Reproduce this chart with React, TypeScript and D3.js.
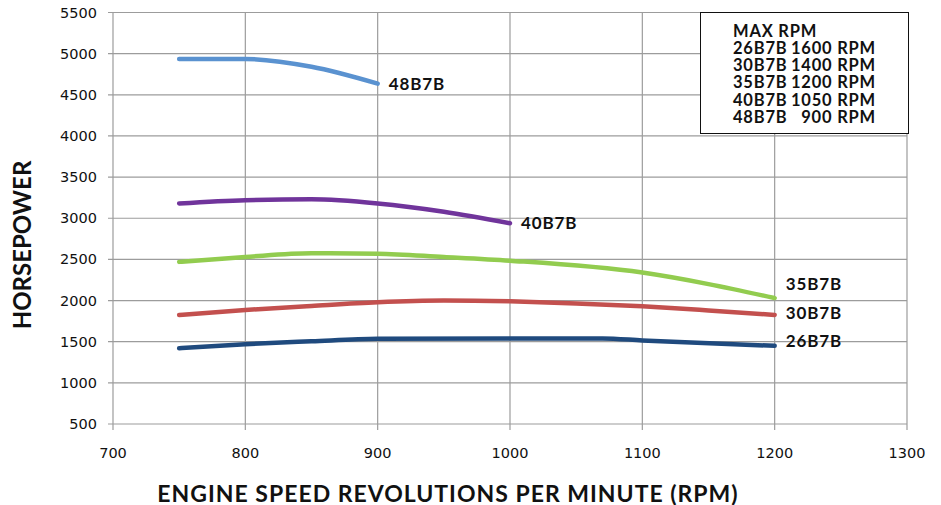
import { useEffect, useRef } from 'react';
import * as d3 from 'd3';

interface Pt { rpm: number; hp: number; }

// --- data ---
const hp48: Pt[] = [
  { rpm: 750, hp: 4935 }, { rpm: 800, hp: 4935 }, { rpm: 850, hp: 4840 }, { rpm: 900, hp: 4635 },
];
const hp40: Pt[] = [
  { rpm: 750, hp: 3180 }, { rpm: 800, hp: 3220 }, { rpm: 850, hp: 3230 }, { rpm: 900, hp: 3180 },
  { rpm: 950, hp: 3080 }, { rpm: 1000, hp: 2940 },
];
const hp35: Pt[] = [
  { rpm: 750, hp: 2470 }, { rpm: 800, hp: 2530 }, { rpm: 850, hp: 2575 }, { rpm: 900, hp: 2570 },
  { rpm: 950, hp: 2530 }, { rpm: 1000, hp: 2485 }, { rpm: 1100, hp: 2340 }, { rpm: 1150, hp: 2200 },
  { rpm: 1200, hp: 2030 },
];
const hp30: Pt[] = [
  { rpm: 750, hp: 1825 }, { rpm: 800, hp: 1885 }, { rpm: 850, hp: 1935 }, { rpm: 900, hp: 1980 },
  { rpm: 950, hp: 2000 }, { rpm: 1000, hp: 1990 }, { rpm: 1050, hp: 1965 }, { rpm: 1100, hp: 1930 },
  { rpm: 1150, hp: 1880 }, { rpm: 1200, hp: 1825 },
];
const hp26: Pt[] = [
  { rpm: 750, hp: 1420 }, { rpm: 800, hp: 1470 }, { rpm: 850, hp: 1505 }, { rpm: 900, hp: 1535 },
  { rpm: 1000, hp: 1540 }, { rpm: 1070, hp: 1540 }, { rpm: 1100, hp: 1515 }, { rpm: 1200, hp: 1450 },
];

const seriesNames = ['48B7B', '40B7B', '35B7B', '30B7B', '26B7B'];
const seriesData = [hp48, hp40, hp35, hp30, hp26];
const seriesColors = ['#5a92d0', '#70349b', '#92cc4f', '#c3504e', '#1f4a7e'];
// vertical nudge of each end label, relative to the line end
const labelDy = [0, 0, -14, -2, -5];

const xTicks = [700, 800, 900, 1000, 1100, 1200, 1300];
const yTicks = [500, 1000, 1500, 2000, 2500, 3000, 3500, 4000, 4500, 5000, 5500];

const legendTitle = 'MAX RPM';
const legendNames = ['26B7B', '30B7B', '35B7B', '40B7B', '48B7B'];
const legendRpm = [1600, 1400, 1200, 1050, 900];

const W = 941;
const H = 505;

export default function App() {
  const ref = useRef<SVGSVGElement>(null);

  useEffect(() => {
    if (!ref.current) return;
    const svg = d3.select(ref.current);
    svg.selectAll('*').remove();

    const x = d3.scaleLinear().domain([700, 1300]).range([113, 907]);
    const y = d3.scaleLinear().domain([500, 5500]).range([424, 12.5]);
    const gridColor = '#9c9c9c';
    const labelFont = 'Lato';

    // Grid
    const g = svg.append('g');
    g.selectAll('line.h')
      .data(yTicks)
      .enter().append('line')
      .attr('x1', x(700) - 5).attr('x2', x(1300))
      .attr('y1', d => y(d)).attr('y2', d => y(d))
      .attr('stroke', gridColor).attr('stroke-width', 1.2);
    g.selectAll('line.v')
      .data(xTicks)
      .enter().append('line')
      .attr('x1', d => x(d)).attr('x2', d => x(d))
      .attr('y1', y(5500)).attr('y2', y(500) + 6)
      .attr('stroke', gridColor).attr('stroke-width', 1.2);

    // Tick labels
    g.selectAll('text.yt')
      .data(yTicks)
      .enter().append('text')
      .attr('x', 97).attr('y', d => y(d) + 5)
      .attr('text-anchor', 'end')
      .attr('font-family', 'DejaVu Sans').attr('font-size', 14.5).attr('fill', '#111')
      .text(d => d);
    g.selectAll('text.xt')
      .data(xTicks)
      .enter().append('text')
      .attr('x', d => x(d)).attr('y', 458)
      .attr('text-anchor', 'middle')
      .attr('font-family', 'DejaVu Sans').attr('font-size', 14.5).attr('fill', '#111')
      .text(d => d);

    // Lines
    const line = d3.line<Pt>()
      .x(d => x(d.rpm))
      .y(d => y(d.hp))
      .curve(d3.curveMonotoneX);

    seriesData.forEach((data, i) => {
      svg.append('path')
        .datum(data)
        .attr('fill', 'none')
        .attr('stroke', seriesColors[i])
        .attr('stroke-width', 4.5)
        .attr('stroke-linecap', 'round')
        .attr('d', line);
      const last = data[data.length - 1];
      svg.append('text')
        .attr('x', x(last.rpm) + 11)
        .attr('y', y(last.hp) + labelDy[i] + 6)
        .attr('font-family', labelFont).attr('font-weight', 700).attr('font-size', 17)
        .attr('letter-spacing', 0.9)
        .attr('fill', '#111')
        .text(seriesNames[i]);
    });

    // Legend box
    const lg = svg.append('g');
    lg.append('rect')
      .attr('x', 700.5).attr('y', 12.5).attr('width', 208).attr('height', 121)
      .attr('fill', '#fff').attr('stroke', '#111').attr('stroke-width', 1);
    const lineH = 17.3;
    const legendText = (sel: d3.Selection<SVGTextElement, unknown, null, undefined>) =>
      sel.attr('font-family', labelFont).attr('font-weight', 700).attr('font-size', 16.5)
        .attr('letter-spacing', 0.8).attr('fill', '#111');
    legendText(lg.append('text').attr('x', 733).attr('y', 36.5)).text(legendTitle);
    legendNames.forEach((n, i) => {
      const by = 36.5 + lineH * (i + 1);
      legendText(lg.append('text').attr('x', 733).attr('y', by)).text(n);
      legendText(lg.append('text').attr('x', 876).attr('y', by).attr('text-anchor', 'end'))
        .text(`${legendRpm[i]} RPM`);
    });

    // Axis titles
    svg.append('text')
      .attr('transform', `translate(31,245) rotate(-90)`)
      .attr('text-anchor', 'middle')
      .attr('font-family', labelFont).attr('font-weight', 700).attr('font-size', 24).attr('fill', '#111')
      .text('HORSEPOWER');
    svg.append('text')
      .attr('x', 448).attr('y', 502)
      .attr('text-anchor', 'middle')
      .attr('font-family', labelFont).attr('font-weight', 700).attr('font-size', 23)
      .attr('letter-spacing', 1)
      .attr('fill', '#111')
      .text('ENGINE SPEED REVOLUTIONS PER MINUTE (RPM)');
  }, []);

  return (
    <div style={{ position: 'absolute', left: 0, top: 0, width: W, height: H, background: '#fff' }}>
      <svg ref={ref} width={W} height={H} />
    </div>
  );
}
